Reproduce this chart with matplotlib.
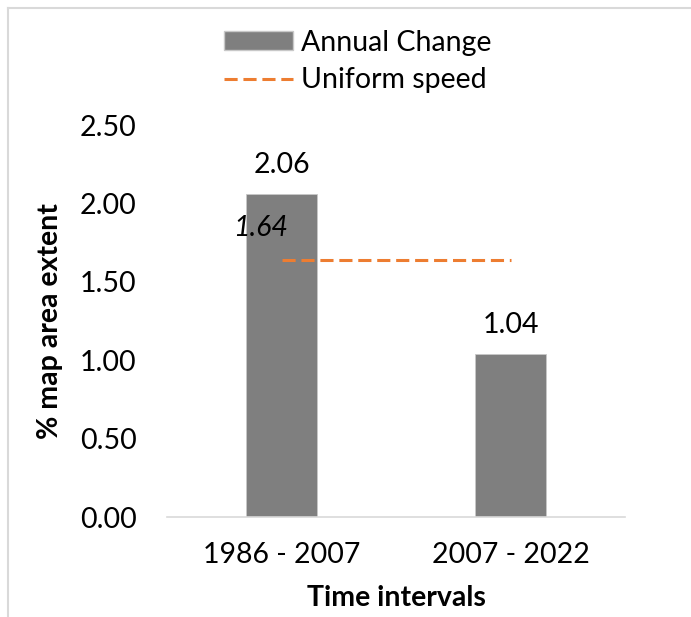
import matplotlib
matplotlib.use('Agg')
import matplotlib.pyplot as plt
from matplotlib.lines import Line2D
from matplotlib.patches import Patch

# data
periods = ['1986 - 2007', '2007 - 2022']
annual_change = [2.06, 1.04]
uniform_speed = 1.64
y_ticks = [0.0, 0.5, 1.0, 1.5, 2.0, 2.5]

plt.rcParams['font.family'] = ['Lato', 'DejaVu Sans']
fs = 20.5
dash = (0, (4.3, 1.9))

fig = plt.figure(figsize=(6.91, 6.17), dpi=100)
ax = fig.add_axes([167/691, 1 - 517/617, 458/691, 392/617])

x = range(len(periods))
bars = ax.bar(x, annual_change, width=0.31, color='#7f7f7f',
              edgecolor='#c8c8c8', linewidth=0.6, zorder=2)
for xi, v in zip(x, annual_change):
    ax.text(xi, v + 0.1, '{0:.2f}'.format(v), ha='center', va='bottom',
            fontsize=fs)

# uniform speed reference
ax.plot([0, 1], [uniform_speed, uniform_speed], color='#ED7D31',
        linestyle=dash, linewidth=2.2, zorder=3)
ax.text(-0.09, uniform_speed + 0.12, '{0:.2f}'.format(uniform_speed),
        ha='center', va='bottom', fontsize=fs, style='italic')

ax.set_xlim(-0.5, 1.5)
ax.set_ylim(0, 2.5)
ax.set_yticks(y_ticks)
ax.set_yticklabels(['{0:.2f}'.format(t) for t in y_ticks], fontsize=fs)
ax.set_xticks(list(x))
ax.set_xticklabels(periods, fontsize=fs)
ax.tick_params(length=0)
ax.tick_params(axis='x', pad=18)
ax.tick_params(axis='y', pad=22)

for s in ['top', 'right', 'left']:
    ax.spines[s].set_visible(False)
ax.spines['bottom'].set_color('#d9d9d9')
ax.spines['bottom'].set_linewidth(1.2)

ax.set_xlabel('Time intervals', fontsize=fs, fontweight='bold', labelpad=12)
ax.set_ylabel('% map area extent', fontsize=fs, fontweight='bold', labelpad=12)

handles = [Patch(facecolor='#7f7f7f', edgecolor='#c8c8c8', label='Annual Change'),
           Line2D([0], [0], color='#ED7D31', linestyle=dash,
                  linewidth=2.2, label='Uniform speed')]
fig.legend(handles=handles, loc='upper center', bbox_to_anchor=(358/691, 1 - 10/617),
           frameon=False, fontsize=fs, handlelength=2.4, handleheight=0.65,
           handletextpad=0.3, labelspacing=0.4, borderpad=0.2)

# chart border
fig.add_artist(Line2D([8/691, 1], [1 - 8/617, 1 - 8/617], color='#d9d9d9',
                      linewidth=1.5, transform=fig.transFigure))
fig.add_artist(Line2D([8/691, 8/691], [0, 1 - 8/617], color='#d9d9d9',
                      linewidth=1.5, transform=fig.transFigure))

fig.savefig('out.png', dpi=100, facecolor='white')
